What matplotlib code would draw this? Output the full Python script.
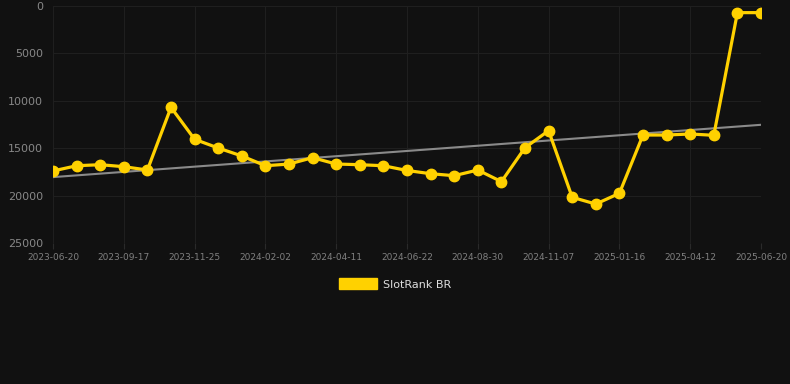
import numpy as np
import matplotlib
matplotlib.use("Agg")
import matplotlib.pyplot as plt
from matplotlib.patches import Patch

# ranks per snapshot (lower is better, axis inverted)
ranks = [17400, 16850, 16740, 16950, 17300, 10690, 14060, 14980, 15820, 16850,
         16670, 16000, 16670, 16740, 16850, 17350, 17690, 17900, 17300, 18530,
         14950, 13150, 20180, 20890, 19760, 13610, 13610, 13500, 13640, 700, 700]
tick_labels = ["2023-06-20", "2023-09-17", "2023-11-25", "2024-02-02", "2024-04-11",
               "2024-06-22", "2024-08-30", "2024-11-07", "2025-01-16", "2025-04-12",
               "2025-06-20"]
series_name = "SlotRank BR"

bg = "#111111"
yellow = "#FFD100"

fig = plt.figure(figsize=(7.9, 3.84), dpi=100, facecolor=bg)
ax = fig.add_axes([53/790, 1-243/384, 708/790, 237/384])
ax.set_facecolor(bg)

x = np.arange(len(ranks))
slope, icpt = np.polyfit(x, ranks, 1)
ax.plot(x, slope*x + icpt, color="#8a8a8a", lw=1.5, zorder=2)
ax.plot(x, ranks, color=yellow, lw=2.3, marker="o", ms=7.5, zorder=3)

ax.set_xlim(0, len(ranks)-1)
ax.set_ylim(25000, 0)
ax.set_yticks([0, 5000, 10000, 15000, 20000, 25000])
ax.set_xticks(x[::3])
ax.set_xticklabels(tick_labels)

ax.grid(True, color="#1f1f1f", lw=0.8)
for s in ax.spines.values():
    s.set_visible(False)
ax.tick_params(axis="y", colors="#888888", labelsize=8, length=0, pad=7)
ax.tick_params(axis="x", colors="#808080", labelsize=6.5, length=4, pad=3)
ax.tick_params(axis="x", color="#2a2a2a")

leg = fig.legend(handles=[Patch(facecolor=yellow, edgecolor=yellow, label=series_name)],
                 loc="center", bbox_to_anchor=(0.5, 1-284/384), frameon=False,
                 handlelength=3.4, handleheight=1.1, handletextpad=0.5, fontsize=8)
for t in leg.get_texts():
    t.set_color("#dddddd")

fig.savefig("out.png", dpi=100, facecolor=bg)
